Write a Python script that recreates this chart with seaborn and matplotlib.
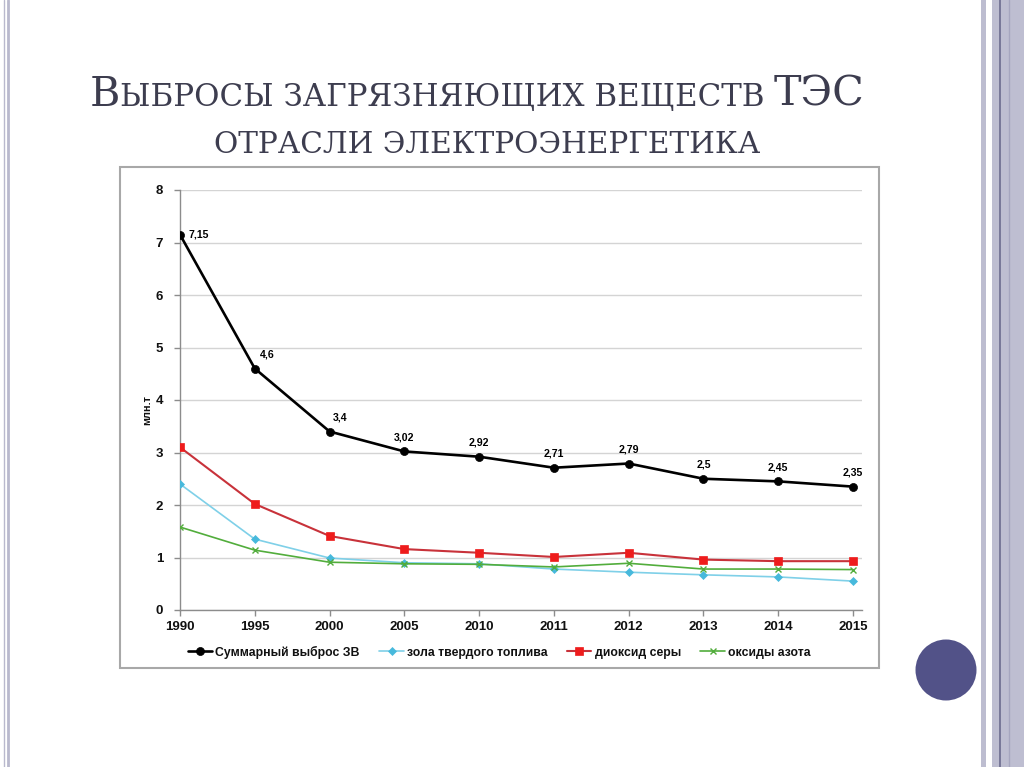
import numpy as np
import pandas as pd
import matplotlib
matplotlib.use("Agg")
import matplotlib.pyplot as plt
import seaborn as sns
from matplotlib import font_manager
from matplotlib.patches import Rectangle, Circle
from matplotlib.lines import Line2D
from matplotlib.transforms import IdentityTransform

# ---------------- data ----------------
years = ["1990", "1995", "2000", "2005", "2010", "2011", "2012", "2013", "2014", "2015"]
total = [7.15, 4.6, 3.4, 3.02, 2.92, 2.71, 2.79, 2.5, 2.45, 2.35]
ash = [2.40, 1.35, 0.99, 0.90, 0.88, 0.78, 0.72, 0.67, 0.63, 0.55]
so2 = [3.10, 2.02, 1.41, 1.16, 1.09, 1.01, 1.09, 0.96, 0.93, 0.93]
nox = [1.58, 1.14, 0.91, 0.88, 0.87, 0.82, 0.89, 0.78, 0.78, 0.77]
series_names = ["Суммарный выброс ЗВ", "зола твердого топлива", "диоксид серы", "оксиды азота"]
y_label = "млн.т"
title_line1 = [("В", "big"), ("ЫБРОСЫ ЗАГРЯЗНЯЮЩИХ ВЕЩЕСТВ ", "small"), ("ТЭС", "big")]
title_line2 = [("ОТРАСЛИ ЭЛЕКТРОЭНЕРГЕТИКА", "small")]

W, H = 1024, 767
sns.set_theme(style="white")
plt.rcParams["font.family"] = ["Liberation Sans", "DejaVu Sans"]

avail = {f.name for f in font_manager.fontManager.ttflist}
narrow = "Liberation Sans Narrow" if "Liberation Sans Narrow" in avail else "Liberation Sans"

fig = plt.figure(figsize=(W / 100, H / 100), dpi=100)
fig.patch.set_facecolor("white")


def fx(x):
    return x / W


def fy(y):
    return 1 - y / H


# ---------------- slide decoration ----------------
deco = "#b9b9cd"
fig.add_artist(Line2D([fx(4), fx(4)], [0, 1], color=deco, lw=1.0, transform=fig.transFigure))
fig.add_artist(Line2D([fx(8), fx(8)], [0, 1], color=deco, lw=2.0, transform=fig.transFigure))
fig.add_artist(Rectangle((fx(981), 0), fx(4.5), 1, color="#bdbdd0", transform=fig.transFigure, lw=0))
fig.add_artist(Rectangle((fx(992), 0), fx(32), 1, color="#bebed1", transform=fig.transFigure, lw=0))
fig.add_artist(Line2D([fx(1000), fx(1000)], [0, 1], color="#6c6c8e", lw=1.2, transform=fig.transFigure))
fig.add_artist(Line2D([fx(1009), fx(1009)], [0, 1], color="#a6a6bf", lw=1.0, transform=fig.transFigure))
fig.add_artist(Circle((946, H - 670), 30.5, color="#525288", transform=IdentityTransform(), lw=0))

# chart box
fig.add_artist(Rectangle((fx(120), fy(668)), fx(759), fy(167) - fy(668), fill=False,
                         edgecolor="#a8a8a8", lw=1.5, transform=fig.transFigure))

# ---------------- title (small caps) ----------------
renderer = fig.canvas.get_renderer()
title_color = "#3d3d4f"


def draw_line(parts, cx, baseline, target_w, big=27.5, small=20.5):
    texts = []
    for s, kind in parts:
        t = fig.text(0, 0, s, fontsize=big if kind == "big" else small,
                     family="DejaVu Serif", color=title_color,
                     transform=IdentityTransform(), va="baseline", ha="left")
        texts.append((t, kind))
    widths = [t.get_window_extent(renderer).width for t, _ in texts]
    scale = target_w / sum(widths)
    for t, kind in texts:
        t.set_fontsize((big if kind == "big" else small) * scale)
    widths = [t.get_window_extent(renderer).width for t, _ in texts]
    x = cx - sum(widths) / 2
    for (t, _), w in zip(texts, widths):
        t.set_position((x, H - baseline))
        x += w


draw_line(title_line1, 477, 106, 777)
draw_line(title_line2, 487, 153, 549)

# ---------------- chart ----------------
ax = fig.add_axes([fx(180), fy(610), fx(862 - 180), fy(190) - fy(610)])
ax.set_facecolor("white")

styles = [
    dict(color="black", lw=1.9, marker="o", ms=5.8, mfc="black", mec="black", mew=0.5),
    dict(color="#7fd0e8", lw=1.2, marker="D", ms=3.6, mfc="#47b9dc", mec="#47b9dc", mew=0.5),
    dict(color="#c8323a", lw=1.5, marker="s", ms=6.0, mfc="#ee1c1c", mec="#ee1c1c", mew=0.5),
    dict(color="#52ad3c", lw=1.2, marker="x", ms=4.5, mfc="#52ad3c", mec="#52ad3c", mew=1.0),
]
data_series = [total, ash, so2, nox]
draw_order = [1, 3, 2, 0]
for k in draw_order:
    st = styles[k]
    df = pd.DataFrame({"year": years, "value": data_series[k]})
    sns.lineplot(data=df, x="year", y="value", ax=ax, sort=False,
                 color=st["color"], linewidth=st["lw"], marker=st["marker"],
                 markersize=st["ms"], markerfacecolor=st["mfc"],
                 markeredgecolor=st["mec"], markeredgewidth=st["mew"],
                 label=series_names[k], zorder=3 + (k == 0))

# data labels on total
offsets = [(6, 0, "left"), (4, 10, "left"), (2, 10, "left")] + [(0, 10, "center")] * 7
for i, v in enumerate(total):
    dx, dy, ha = offsets[i]
    lab = f"{v:g}".replace(".", ",")
    ax.annotate(lab, (i, v), xytext=(dx, dy), textcoords="offset points",
                ha=ha, va="center", fontsize=7.6, fontweight="bold", color="black")

ax.set_ylim(0, 8)
ax.set_xlim(0, 9.12)
ax.set_yticks(range(0, 9))
ax.set_xticks(range(len(years)))
ax.set_xticklabels(years)
ax.yaxis.grid(True, color="#d4d4d4", lw=1.0)
ax.xaxis.grid(False)
for sp in ["top", "right"]:
    ax.spines[sp].set_visible(False)
for sp in ["left", "bottom"]:
    ax.spines[sp].set_color("#8c8c8c")
    ax.spines[sp].set_linewidth(1.0)
ax.tick_params(axis="both", which="major", length=4, width=1.0, color="#8c8c8c",
               direction="out", left=True, bottom=True)
ax.tick_params(axis="y", pad=8)
ax.tick_params(axis="x", pad=4)
for lab in ax.get_xticklabels() + ax.get_yticklabels():
    lab.set_fontweight("bold")
    lab.set_fontsize(9.5)
    lab.set_color("#111111")

ax.set_xlabel("")
ax.set_ylabel(y_label, fontsize=7.8, fontweight="bold", color="#111111")
ax.yaxis.set_label_coords(-0.04, 0.476)

h, l = ax.get_legend_handles_labels()
order = [l.index(n) for n in series_names]
leg = ax.legend([h[i] for i in order], [l[i] for i in order], ncol=4, frameon=False,
                loc="center", bbox_to_anchor=(0.468, -0.1), handlelength=2.0,
                columnspacing=1.6, handletextpad=0.25,
                prop=dict(family=narrow, weight="bold", size=9.6 if narrow != "Liberation Sans" else 8.8))
for t in leg.get_texts():
    t.set_color("#111111")

fig.savefig("out.png", dpi=100, facecolor="white")
